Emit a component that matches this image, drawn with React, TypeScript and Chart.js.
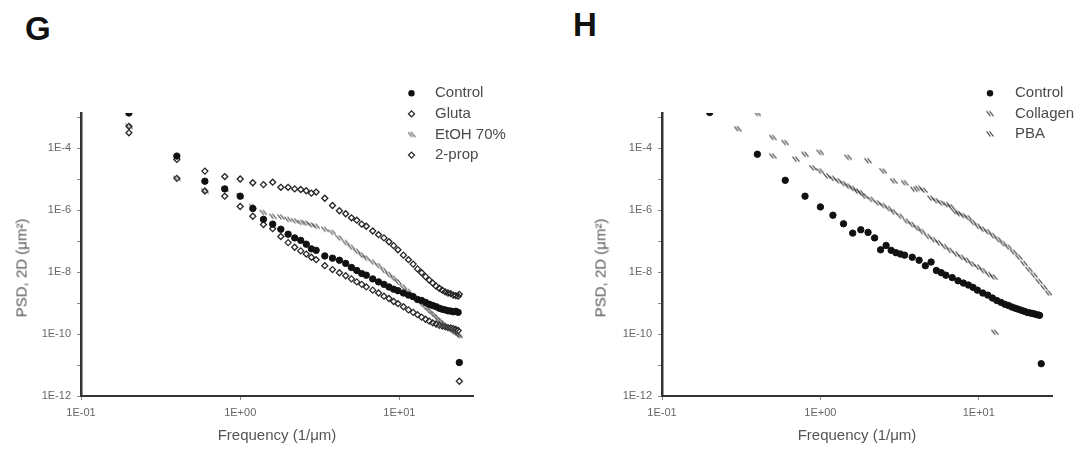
import { useEffect, useRef } from 'react';
import { Chart, registerables } from 'chart.js';

Chart.register(...registerables);

// ---------- Panel G data ----------
const G_FREQ = [0.2, 0.4, 0.6, 0.8, 1.0, 1.2, 1.4, 1.6, 1.8, 2.0, 2.2, 2.4, 2.6, 2.8, 3.0, 3.4, 3.8, 4.2, 4.6, 5.0, 5.4, 5.8, 6.2, 6.8, 7.4, 8.0, 8.6, 9.2, 9.8, 10.6, 11.4, 12.2, 13.0, 13.8, 14.6, 15.4, 16.2, 17.0, 17.8, 18.6, 19.4, 20.2, 21.0, 21.8, 22.6, 23.4, 23.8];
const G_CONTROL = [1.35e-3, 5.5e-5, 8.5e-6, 4.8e-6, 2.8e-6, 1.12e-6, 5.0e-7, 3.5e-7, 2.4e-7, 1.66e-7, 1.26e-7, 1.05e-7, 7.9e-8, 5.6e-8, 5.0e-8, 3.3e-8, 2.8e-8, 2.4e-8, 1.9e-8, 1.4e-8, 1.12e-8, 8.9e-9, 7.9e-9, 6.0e-9, 4.8e-9, 4.0e-9, 3.3e-9, 2.8e-9, 2.5e-9, 2.1e-9, 1.8e-9, 1.6e-9, 1.3e-9, 1.2e-9, 1.05e-9, 9.1e-10, 8.3e-10, 7.6e-10, 6.8e-10, 6.3e-10, 6.0e-10, 5.6e-10, 5.5e-10, 5.2e-10, 5.4e-10, 5.0e-10, 1.2e-11];
const G_GLUTA = [5.0e-4, 4.3e-5, 1.8e-5, 1.2e-5, 1.0e-5, 7.6e-6, 6.6e-6, 7.9e-6, 5.4e-6, 5.4e-6, 4.8e-6, 4.6e-6, 4.2e-6, 3.5e-6, 3.8e-6, 2.4e-6, 1.4e-6, 9.5e-7, 7.6e-7, 5.6e-7, 4.7e-7, 3.5e-7, 3.0e-7, 2.1e-7, 1.6e-7, 1.26e-7, 9.5e-8, 7.1e-8, 5.2e-8, 3.5e-8, 2.5e-8, 1.8e-8, 1.26e-8, 9.5e-9, 7.1e-9, 5.5e-9, 4.4e-9, 3.5e-9, 3.0e-9, 2.6e-9, 2.3e-9, 2.1e-9, 2.0e-9, 1.8e-9, 1.74e-9, 1.66e-9, 1.9e-9];
const G_ETOH = [5.0e-4, 1.05e-5, 4.1e-6, 4.8e-6, 2.8e-6, 1.3e-6, 8.3e-7, 6.3e-7, 6.0e-7, 5.0e-7, 4.5e-7, 4.0e-7, 3.8e-7, 3.3e-7, 3.0e-7, 2.4e-7, 1.9e-7, 1.26e-7, 8.9e-8, 6.3e-8, 4.7e-8, 3.5e-8, 2.8e-8, 2.1e-8, 1.6e-8, 1.12e-8, 8.3e-9, 6.3e-9, 4.8e-9, 3.3e-9, 2.4e-9, 1.74e-9, 1.26e-9, 9.5e-10, 7.2e-10, 5.6e-10, 4.4e-10, 3.5e-10, 2.8e-10, 2.3e-10, 1.9e-10, 1.6e-10, 1.35e-10, 1.17e-10, 1.05e-10, 9.3e-11, 8.9e-11];
const G_PROP = [3.1e-4, 1.05e-5, 4.1e-6, 2.8e-6, 1.3e-6, 6.3e-7, 3.4e-7, 2.5e-7, 1.4e-7, 8.9e-8, 6.3e-8, 4.8e-8, 3.8e-8, 3.0e-8, 2.5e-8, 1.6e-8, 1.2e-8, 9.5e-9, 7.6e-9, 6.0e-9, 4.8e-9, 4.0e-9, 3.3e-9, 2.6e-9, 2.1e-9, 1.66e-9, 1.4e-9, 1.12e-9, 9.5e-10, 7.6e-10, 6.0e-10, 5.0e-10, 4.2e-10, 3.5e-10, 3.0e-10, 2.6e-10, 2.3e-10, 2.1e-10, 1.9e-10, 1.8e-10, 1.7e-10, 1.6e-10, 1.58e-10, 1.5e-10, 1.4e-10, 1.3e-10, 3.0e-12];

// ---------- Panel H data ----------
const H_CONTROL_FREQ = [0.2, 0.4, 0.6, 0.8, 1.0, 1.2, 1.4, 1.6, 1.8, 2.0, 2.2, 2.4, 2.6, 2.8, 3.0, 3.2, 3.4, 3.8, 4.2, 4.6, 5.0, 5.4, 5.8, 6.2, 6.8, 7.4, 8.0, 8.6, 9.2, 9.8, 10.6, 11.4, 12.2, 13.0, 13.8, 14.6, 15.4, 16.2, 17.0, 17.8, 18.6, 19.4, 20.2, 21.0, 21.8, 22.6, 23.4, 24.2, 24.8];
const H_CONTROL = [1.4e-3, 6.3e-5, 9.1e-6, 2.8e-6, 1.26e-6, 6.8e-7, 3.6e-7, 1.8e-7, 2.3e-7, 1.9e-7, 1.26e-7, 5.2e-8, 7.2e-8, 5.0e-8, 4.2e-8, 3.8e-8, 3.5e-8, 3.0e-8, 2.4e-8, 1.6e-8, 2.1e-8, 1.12e-8, 9.5e-9, 7.9e-9, 6.6e-9, 5.2e-9, 4.4e-9, 3.8e-9, 3.2e-9, 2.6e-9, 2.1e-9, 1.8e-9, 1.45e-9, 1.2e-9, 1.05e-9, 9.1e-10, 8.3e-10, 7.4e-10, 6.8e-10, 6.3e-10, 5.8e-10, 5.4e-10, 5.0e-10, 4.8e-10, 4.6e-10, 4.4e-10, 4.2e-10, 4.0e-10, 1.1e-11];
const H_COLLAGEN_FREQ = [0.3, 0.5, 0.7, 0.9, 1.0, 1.1, 1.2, 1.3, 1.4, 1.5, 1.6, 1.7, 1.8, 1.9, 2.1, 2.3, 2.5, 2.7, 2.9, 3.2, 3.5, 3.8, 4.1, 4.4, 4.8, 5.2, 5.6, 6.1, 6.6, 7.2, 7.8, 8.4, 9.1, 9.9, 10.7, 11.6, 12.4, 12.6];
const H_COLLAGEN = [4.2e-4, 5.6e-5, 4.4e-5, 2.3e-5, 1.8e-5, 1.26e-5, 1.05e-5, 8.7e-6, 7.2e-6, 5.9e-6, 5.0e-6, 4.1e-6, 3.6e-6, 2.8e-6, 2.2e-6, 1.7e-6, 1.4e-6, 1.12e-6, 8.7e-7, 6.3e-7, 4.4e-7, 3.4e-7, 2.6e-7, 2.0e-7, 1.4e-7, 1.1e-7, 8.7e-8, 6.6e-8, 5.0e-8, 3.8e-8, 3.0e-8, 2.4e-8, 1.8e-8, 1.45e-8, 1.1e-8, 8.3e-9, 6.9e-9, 1.15e-10];
const H_PBA_FREQ = [0.4, 0.5, 0.6, 0.8, 1.0, 1.5, 2.0, 2.5, 2.9, 3.4, 3.9, 4.2, 4.5, 5.0, 5.4, 5.8, 6.3, 6.7, 7.1, 7.5, 8.0, 8.6, 9.2, 9.9, 10.6, 11.4, 12.3, 13.3, 14.3, 15.4, 16.6, 17.9, 19.3, 20.8, 22.4, 24.0, 25.8, 27.6];
const H_PBA = [1.3e-3, 2.2e-4, 1.5e-4, 6.3e-5, 7.2e-5, 5.0e-5, 3.9e-5, 1.8e-5, 8.7e-6, 7.6e-6, 4.7e-6, 5.0e-6, 4.4e-6, 2.4e-6, 2.0e-6, 1.7e-6, 1.5e-6, 1.26e-6, 8.9e-7, 7.6e-7, 6.6e-7, 5.6e-7, 4.0e-7, 3.0e-7, 2.4e-7, 2.0e-7, 1.5e-7, 1.12e-7, 8.3e-8, 6.3e-8, 4.4e-8, 3.0e-8, 1.9e-8, 1.2e-8, 7.9e-9, 5.0e-9, 3.2e-9, 2.1e-9];

// ---------- Axes ----------
const X_MIN = 0.1;
const X_MAX = 29;
const Y_MIN = 1e-12;
const Y_MAX = 1.35e-3;
const X_TICKS = [0.1, 1, 10];
const X_TICK_LABELS = ['1E-01', '1E+00', '1E+01'];
const Y_TICKS = [1e-12, 1e-11, 1e-10, 1e-9, 1e-8, 1e-7, 1e-6, 1e-5, 1e-4, 1e-3];
const Y_TICK_LABELS = ['1E-12', '', '1E-10', '', '1E-8', '', '1E-6', '', '1E-4', ''];

const G_LABELS = ['Control', 'Gluta', 'EtOH 70%', '2-prop'];
const H_LABELS = ['Control', 'Collagen', 'PBA'];

const FONT = '"Liberation Sans", Arial, Helvetica, sans-serif';

function slashMarker(color: string) {
  const c = document.createElement('canvas');
  c.width = 8;
  c.height = 8;
  const x = c.getContext('2d')!;
  x.strokeStyle = color;
  x.lineWidth = 1.2;
  x.beginPath();
  x.moveTo(0.5, 1.5);
  x.lineTo(4.5, 6.5);
  x.moveTo(3.5, 1.5);
  x.lineTo(7.5, 6.5);
  x.stroke();
  return c;
}

const legendPlugin = {
  id: 'psdLegend',
  afterDraw(chart: any, _args: any, opts: any) {
    const ctx = chart.ctx as CanvasRenderingContext2D;
    ctx.save();
    chart.data.datasets.forEach((ds: any, i: number) => {
      const y = opts.y + i * opts.dy;
      const x = opts.markerX;
      const ps = ds.pointStyle;
      ctx.fillStyle = ds.backgroundColor;
      ctx.strokeStyle = ds.borderColor;
      ctx.lineWidth = ds.borderWidth;
      if (typeof ps !== 'string') {
        ctx.drawImage(ps, x - ps.width / 2, y - ps.height / 2);
      } else if (ps === 'circle') {
        ctx.beginPath();
        ctx.arc(x, y, ds.pointRadius, 0, Math.PI * 2);
        ctx.fill();
      } else if (ps === 'rectRot') {
        const r = ds.pointRadius;
        ctx.beginPath();
        ctx.moveTo(x, y - r);
        ctx.lineTo(x + r, y);
        ctx.lineTo(x, y + r);
        ctx.lineTo(x - r, y);
        ctx.closePath();
        ctx.stroke();
      }
      ctx.fillStyle = '#4a4a4a';
      ctx.font = `15px ${FONT}`;
      ctx.textBaseline = 'middle';
      ctx.textAlign = 'left';
      ctx.fillText(ds.label, opts.textX, y);
    });
    ctx.restore();
  },
};

function pts(xs: number[], ys: number[]) {
  return xs.map((x, i) => ({ x, y: ys[i] }));
}

function makeOptions(yWidth: number, padRight: number, legend: any) {
  const tickFont = { family: FONT, size: 11 };
  return {
    animation: false as const,
    responsive: false,
    events: [] as any[],
    layout: { padding: { left: 0, right: padRight, top: 43, bottom: 0 } },
    plugins: {
      legend: { display: false },
      tooltip: { enabled: false },
      psdLegend: legend,
    },
    scales: {
      x: {
        type: 'logarithmic' as const,
        min: X_MIN,
        max: X_MAX,
        afterFit: (s: any) => { s.height = 56; },
        afterBuildTicks: (s: any) => { s.ticks = X_TICKS.map((v) => ({ value: v })); },
        ticks: {
          callback: (_v: any, i: number) => X_TICK_LABELS[i],
          font: tickFont,
          color: '#666',
          padding: 6,
          maxRotation: 0,
          autoSkip: false,
        },
        grid: { display: true, drawOnChartArea: false, drawTicks: true, tickLength: 4, color: '#888' },
        border: { display: true, color: '#333', width: 2, dash: [1.5, 1.5] },
        title: { display: false },
      },
      y: {
        type: 'logarithmic' as const,
        min: Y_MIN,
        max: Y_MAX,
        afterFit: (s: any) => { s.width = yWidth; },
        afterBuildTicks: (s: any) => { s.ticks = Y_TICKS.map((v) => ({ value: v })); },
        ticks: {
          callback: (_v: any, i: number) => Y_TICK_LABELS[i],
          font: tickFont,
          color: '#666',
          padding: 6,
          autoSkip: false,
        },
        grid: { display: true, drawOnChartArea: false, drawTicks: true, tickLength: 4, color: '#888' },
        border: { display: true, color: '#333', width: 2.5, dash: [2, 1] },
        title: { display: false },
      },
    },
  };
}

export default function App() {
  const gRef = useRef<HTMLCanvasElement | null>(null);
  const hRef = useRef<HTMLCanvasElement | null>(null);

  useEffect(() => {
    document.documentElement.style.overflow = 'hidden';
    const slashMid = slashMarker('#444');
    const slashDark = slashMarker('#333');
    const controlStyle = { pointStyle: 'circle', pointRadius: 3.2, backgroundColor: '#111', borderColor: '#111', borderWidth: 1 };
    const diamondStyle = (c: string) => ({ pointStyle: 'rectRot', pointRadius: 3, backgroundColor: 'rgba(0,0,0,0)', borderColor: c, borderWidth: 1.3 });

    const g = new Chart(gRef.current!, {
      type: 'scatter',
      data: {
        datasets: [
          { label: G_LABELS[0], data: pts(G_FREQ, G_CONTROL), ...controlStyle } as any,
          { label: G_LABELS[1], data: pts(G_FREQ, G_GLUTA), ...diamondStyle('#222') } as any,
          { label: G_LABELS[2], data: pts(G_FREQ, G_ETOH), pointStyle: slashMid, pointRadius: 4, backgroundColor: '#444', borderColor: '#444', borderWidth: 1 } as any,
          { label: G_LABELS[3], data: pts(G_FREQ, G_PROP), ...diamondStyle('#2a2a2a') } as any,
        ],
      },
      options: makeOptions(81, 72, { markerX: 411.5, textX: 435, y: 23.3, dy: 20.6 }) as any,
      plugins: [legendPlugin],
    });

    const h = new Chart(hRef.current!, {
      type: 'scatter',
      data: {
        datasets: [
          { label: H_LABELS[0], data: pts(H_CONTROL_FREQ, H_CONTROL), ...controlStyle } as any,
          { label: H_LABELS[1], data: pts(H_COLLAGEN_FREQ, H_COLLAGEN), pointStyle: slashDark, pointRadius: 4, backgroundColor: '#333', borderColor: '#333', borderWidth: 1 } as any,
          { label: H_LABELS[2], data: pts(H_PBA_FREQ, H_PBA), pointStyle: slashDark, pointRadius: 4, backgroundColor: '#333', borderColor: '#333', borderWidth: 1 } as any,
        ],
      },
      options: makeOptions(117, 35, { markerX: 445, textX: 470, y: 23.3, dy: 20.3 }) as any,
      plugins: [legendPlugin],
    });

    return () => {
      g.destroy();
      h.destroy();
    };
  }, []);

  const titleStyle: any = {
    position: 'absolute',
    fontFamily: FONT,
    fontSize: 15,
    color: '#555',
    whiteSpace: 'nowrap',
    lineHeight: 1,
  };
  const letterStyle: any = {
    position: 'absolute',
    fontFamily: FONT,
    fontSize: 33,
    fontWeight: 'bold',
    color: '#111',
    lineHeight: 1,
  };

  return (
    <div style={{ position: 'relative', width: 1071, height: 436, overflow: 'visible' }}>
      <canvas ref={gRef} width={545} height={382} style={{ position: 'absolute', left: -8, top: 62 }} />
      <canvas ref={hRef} width={542} height={382} style={{ position: 'absolute', left: 537, top: 62 }} />
      <div style={{ ...letterStyle, left: 17, top: 4 }}>G</div>
      <div style={{ ...letterStyle, left: 565, top: 0 }}>H</div>
      <div style={{ ...titleStyle, left: 13, top: 260, transform: 'translate(-50%, -50%) rotate(-90deg)' }}>PSD, 2D (μm²)</div>
      <div style={{ ...titleStyle, left: 592, top: 260, transform: 'translate(-50%, -50%) rotate(-90deg)' }}>PSD, 2D (μm²)</div>
      <div style={{ ...titleStyle, left: 269, top: 419, transform: 'translateX(-50%)' }}>Frequency (1/μm)</div>
      <div style={{ ...titleStyle, left: 849, top: 419, transform: 'translateX(-50%)' }}>Frequency (1/μm)</div>
    </div>
  );
}
